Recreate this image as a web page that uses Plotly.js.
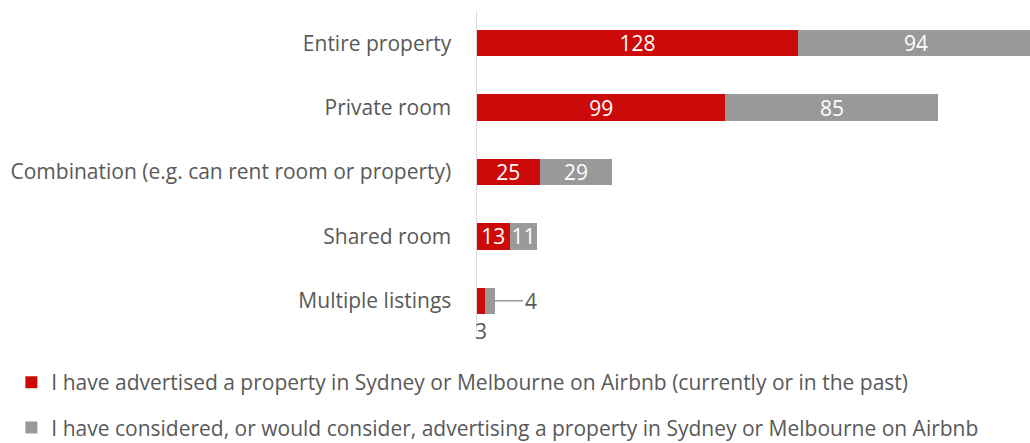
<!DOCTYPE html>
<html>
<head>
<meta charset="utf-8">
<script src="https://cdn.plot.ly/plotly-3.0.1.min.js"></script>
<style>html,body{margin:0;padding:0;background:#fff;}#chart{width:1030px;height:443px;}</style>
</head>
<body>
<div id="chart"></div>
<script>
const categories = ["Entire property", "Private room", "Combination (e.g. can rent room or property)", "Shared room", "Multiple listings"];
const advertised = [128, 99, 25, 13, 3];
const considered = [94, 85, 29, 11, 4];
const seriesNames = [
  "I have advertised a property in Sydney or Melbourne on Airbnb (currently or in the past)",
  "I have considered, or would consider, advertising a property in Sydney or Melbourne on Airbnb"
];

const FONT = "'Open Sans', sans-serif";
const RED = "#cc0a0a";
const GREY = "#999999";
const TXT = "#595959";
const FS = 21;

function inside(vals){ return vals.map(v => v >= 10 ? "inside" : "none"); }

const traces = [
  {type:"bar", orientation:"h", name:seriesNames[0], y:categories, x:advertised,
   marker:{color:RED}, text:advertised.map(String), textposition:inside(advertised), textangle:0,
   insidetextanchor:"middle", constraintext:"none", textfont:{color:"#ffffff", size:FS, family:FONT},
   hoverinfo:"skip", legendgroup:"a"},
  {type:"bar", orientation:"h", name:seriesNames[1], y:categories, x:considered,
   marker:{color:GREY}, text:considered.map(String), textposition:inside(considered), textangle:0,
   insidetextanchor:"middle", constraintext:"none", textfont:{color:"#ffffff", size:FS, family:FONT},
   hoverinfo:"skip", legendgroup:"b"}
];

const last = categories.length - 1;
const layout = {
  width:1030, height:443,
  margin:{l:477, r:0, t:11, b:110, pad:0},
  paper_bgcolor:"#ffffff", plot_bgcolor:"#ffffff",
  barmode:"stack", bargap:0.59,
  font:{family:FONT, size:FS, color:TXT},
  xaxis:{range:[0, 220.5], showgrid:false, zeroline:false, showticklabels:false, ticks:"", showline:false, fixedrange:true},
  yaxis:{autorange:"reversed", showgrid:false, zeroline:false, showline:true, linecolor:"#d9d9d9", linewidth:1.5,
         ticks:"", ticklabelstandoff:20, tickfont:{size:FS, color:TXT, family:FONT}, fixedrange:true},
  showlegend:true,
  legend:{orientation:"v", x:-0.842, xanchor:"left", yref:"container", y:1-362/443, yanchor:"top", traceorder:"grouped",
          tracegroupgap:15, font:{size:FS, color:TXT, family:FONT}, bgcolor:"rgba(0,0,0,0)"},
  annotations:[
    {x:advertised[last]/2, y:categories[last], xref:"x", yref:"y", text:String(advertised[last]),
     showarrow:false, yshift:-30, font:{size:FS, color:TXT, family:FONT}},
    {x:advertised[last]+considered[last], y:categories[last], xref:"x", yref:"y", text:String(considered[last]),
     showarrow:true, arrowhead:0, arrowwidth:1.5, arrowcolor:"#999999", ax:36, ay:0, standoff:0,
     font:{size:FS, color:TXT, family:FONT}}
  ]
};

Plotly.newPlot("chart", traces, layout, {displayModeBar:false, staticPlot:true});
</script>
</body>
</html>
